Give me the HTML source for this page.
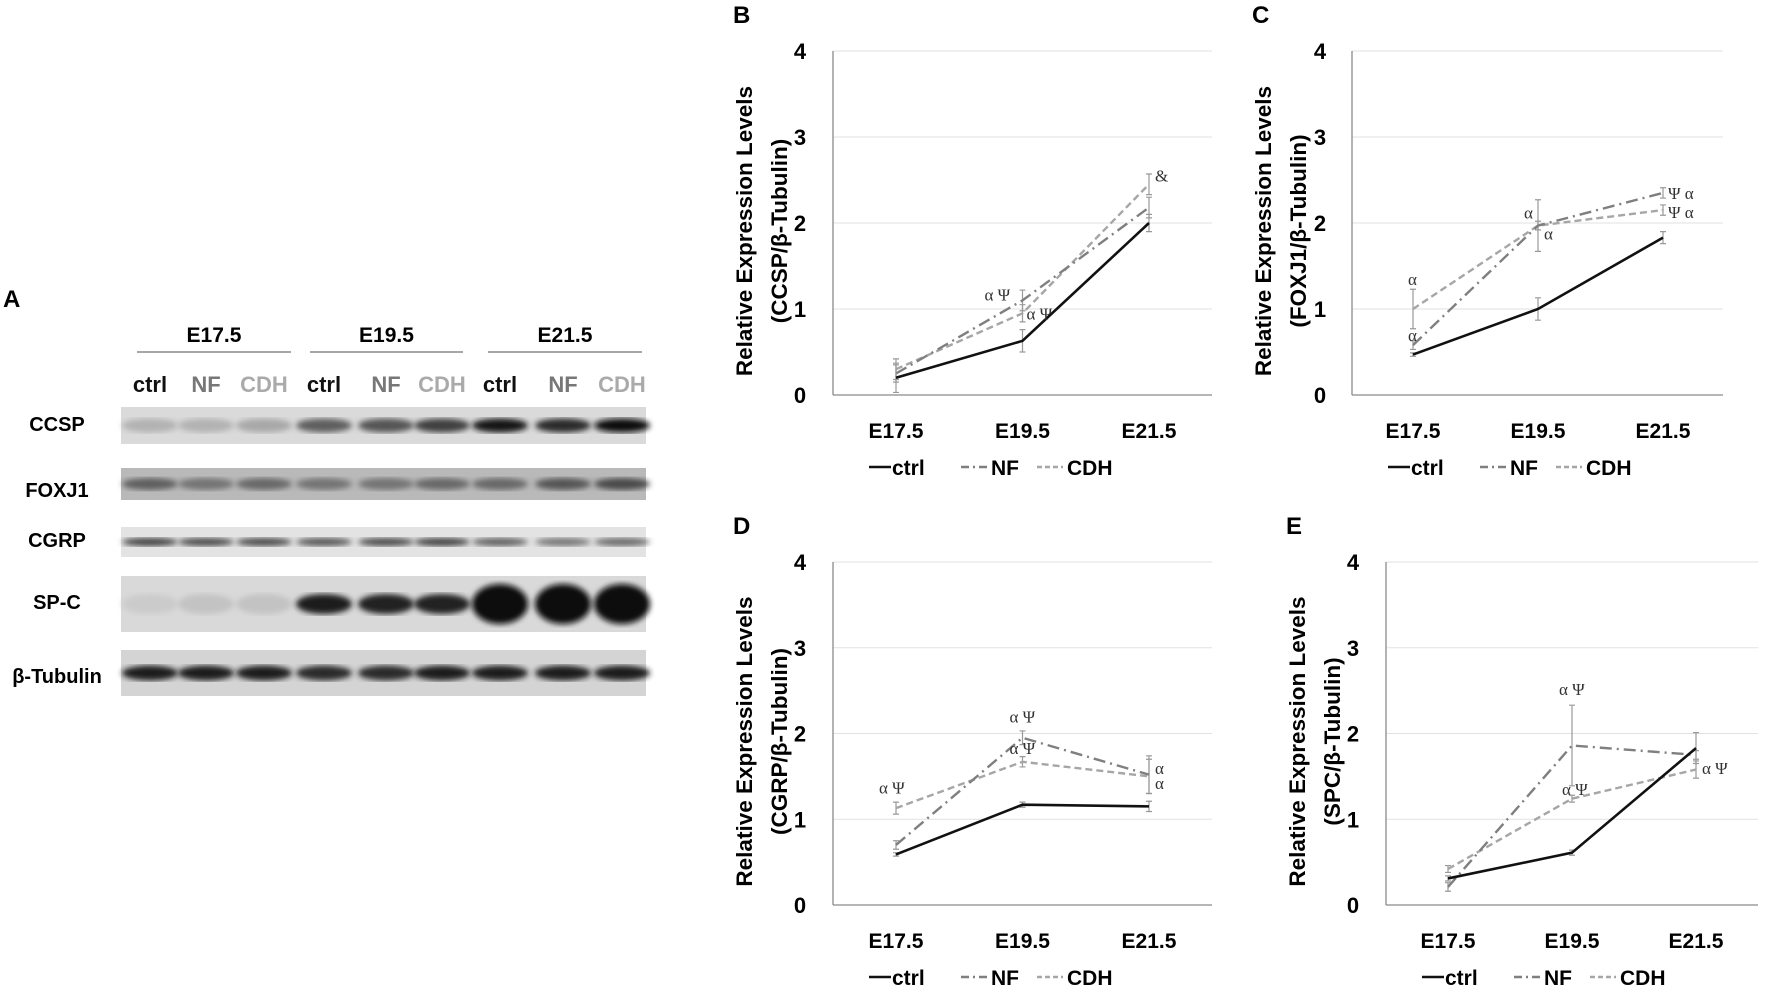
<!DOCTYPE html>
<html><head><meta charset="utf-8">
<style>
html,body{margin:0;padding:0;background:#fff;}
svg{display:block;font-family:"Liberation Sans",sans-serif;}
.lbl{font-family:"Liberation Sans",sans-serif;font-weight:bold;}
</style></head>
<body>
<svg id="fig" width="1772" height="990" viewBox="0 0 1772 990" xmlns="http://www.w3.org/2000/svg">
<defs>
<filter id="blur2"><feGaussianBlur stdDeviation="3"/></filter>
</defs>
<g id="panelA">
<text x="3" y="307" class="lbl" font-size="24">A</text>
</g>
<g id="charts"></g>
</svg>
<script>
// ---- Chart data ----
const categories = ["E17.5","E19.5","E21.5"];
const yTicks = [0,1,2,3,4];
const seriesNames = ["ctrl","NF","CDH"];

const ccspCtrl = [0.20,0.63,2.00];
const ccspNF   = [0.25,1.10,2.18];
const ccspCDH  = [0.30,0.95,2.45];
const ccspCtrlErr = [0.17,0.13,0.10];
const ccspNFErr   = [0.10,0.12,0.12];
const ccspCDHErr  = [0.12,0.10,0.12];

const foxCtrl = [0.47,1.00,1.83];
const foxNF   = [0.58,1.97,2.35];
const foxCDH  = [1.00,1.97,2.15];
const foxCtrlErr = [0.02,0.13,0.07];
const foxNFErr   = [0.05,0.30,0.06];
const foxCDHErr  = [0.23,0.05,0.06];

const cgrpCtrl = [0.59,1.17,1.15];
const cgrpNF   = [0.70,1.95,1.52];
const cgrpCDH  = [1.13,1.67,1.50];
const cgrpCtrlErr = [0.02,0.03,0.06];
const cgrpNFErr   = [0.05,0.08,0.22];
const cgrpCDHErr  = [0.07,0.06,0.20];

const spcCtrl = [0.31,0.61,1.83];
const spcNF   = [0.21,1.86,1.75];
const spcCDH  = [0.42,1.24,1.58];
const spcCtrlErr = [0.03,0.03,0.18];
const spcNFErr   = [0.05,0.47,0.05];
const spcCDHErr  = [0.04,0.04,0.10];

const NS="http://www.w3.org/2000/svg";
const root=document.getElementById('charts');
function el(tag,attrs,parent){const e=document.createElementNS(NS,tag);for(const k in attrs)e.setAttribute(k,attrs[k]);(parent||root).appendChild(e);return e;}

const styles={
 ctrl:{stroke:"#111",dash:"",w:2.6},
 NF:{stroke:"#7f7f7f",dash:"12 5 2 5",w:2.4},
 CDH:{stroke:"#a6a6a6",dash:"7 4",w:2.4}
};

function drawChart(cfg){
 const g=el('g',{});
 
 
 const y=v=>cfg.y0-(cfg.y0-cfg.y4)*v/4;
 const x=i=>cfg.cx0+i*cfg.step;
 const pl=el('text',{x:cfg.ax-100,y:cfg.y4-28,'font-size':24,'class':'lbl'},g);pl.textContent=cfg.letter;
 
 
 yTicks.forEach(t=>{
  if(t>0){const gl=el('line',{x1:cfg.ax,x2:cfg.right,y1:y(t),y2:y(t),stroke:"#e2e2e2","stroke-width":1},g);
   }
  const tl=el('text',{x:cfg.tickX,y:y(t)+8,'font-size':22,'text-anchor':'middle','class':'lbl'},g);tl.textContent=t;
  
 });
 const ya=el('line',{x1:cfg.ax,x2:cfg.ax,y1:cfg.y4,y2:cfg.y0,stroke:"#8a8a8a","stroke-width":1.3},g);
 
 const xa=el('line',{x1:cfg.ax,x2:cfg.right,y1:cfg.y0,y2:cfg.y0,stroke:"#8a8a8a","stroke-width":1.3},g);
 
 categories.forEach((c,i)=>{
  const t=el('text',{x:x(i),y:cfg.y0+43,'font-size':21,'text-anchor':'middle','class':'lbl'},g);t.textContent=c;
  
 });
 const cy=(cfg.y0+cfg.y4)/2+8;
 const t1=el('text',{x:0,y:0,'font-size':22.5,'text-anchor':'middle','class':'lbl',transform:`translate(${cfg.titleX},${cy}) rotate(-90)`},g);
 t1.textContent="Relative Expression Levels";
 
 const t2=el('text',{x:0,y:0,'font-size':22.5,'text-anchor':'middle','class':'lbl',transform:`translate(${cfg.titleX+35},${cy}) rotate(-90)`},g);
 t2.textContent="("+cfg.marker+"/β-Tubulin)";
 
 const order=[2,1,0];
 order.forEach(si=>{
  const name=seriesNames[si];const vals=cfg.series[si];const errs=cfg.errs[si];const st=styles[name];
  vals.forEach((v,i)=>{
   const eb=el('path',{d:`M${x(i)},${y(v-errs[i])}V${y(v+errs[i])}M${x(i)-3},${y(v-errs[i])}h6M${x(i)-3},${y(v+errs[i])}h6`,stroke:"#999","stroke-width":1.2,fill:"none"},g);
   
  });
  const p=el('polyline',{points:vals.map((v,i)=>x(i)+","+y(v)).join(" "),fill:"none",stroke:st.stroke,"stroke-width":st.w,"stroke-dasharray":st.dash},g);
  
 });
 cfg.notes.forEach(n=>{
  const t=el('text',{x:x(n[0])+n[2],y:y(n[1])+6,'font-size':17,fill:"#333",'font-family':'"Liberation Serif","DejaVu Serif",serif'},g);t.textContent=n[3];
  
 });
 const lx=cfg.ax+36, ly=cfg.y0+80;
 const leg=[[0,lx,"ctrl"],[1,lx+92,"NF"],[2,lx+168,"CDH"]];
 leg.forEach(l=>{
  const st=styles[seriesNames[l[0]]];
  const ln=el('line',{x1:l[1],x2:l[1]+(l[0]?26:22),y1:ly-8,y2:ly-8,stroke:st.stroke,"stroke-width":st.w,"stroke-dasharray":l[0]==1?"8 4 2 4":(l[0]==2?"5 3":"")},g);
  
  const t=el('text',{x:l[1]+(l[0]?30:23),y:ly,'font-size':21,'class':'lbl'},g);t.textContent=l[2];
  
 });
}

drawChart({id:'ccsp',letter:'B',marker:'CCSP',ax:833,right:1212,y0:395,y4:51,cx0:896,step:126.5,tickX:800,titleX:752,
 series:[ccspCtrl,ccspNF,ccspCDH],errs:[ccspCtrlErr,ccspNFErr,ccspCDHErr],
 notes:[[1,1.17,-38,"α Ψ"],[1,0.95,4,"α Ψ"],[2,2.55,6,"&"]]});
drawChart({id:'foxj1',letter:'C',marker:'FOXJ1',ax:1352,right:1723,y0:395,y4:51,cx0:1413,step:125,tickX:1320,titleX:1271,
 series:[foxCtrl,foxNF,foxCDH],errs:[foxCtrlErr,foxNFErr,foxCDHErr],
 notes:[[0,1.35,-5,"α"],[0,0.7,-5,"α"],[1,2.12,-14,"α"],[1,1.88,6,"α"],[2,2.35,5,"Ψ α"],[2,2.13,5,"Ψ α"]]});
drawChart({id:'cgrp',letter:'D',marker:'CGRP',ax:833,right:1212,y0:905,y4:562,cx0:896,step:126.5,tickX:800,titleX:752,
 series:[cgrpCtrl,cgrpNF,cgrpCDH],errs:[cgrpCtrlErr,cgrpNFErr,cgrpCDHErr],
 notes:[[0,1.37,-17,"α Ψ"],[1,2.2,-13,"α Ψ"],[1,1.83,-13,"α Ψ"],[2,1.6,6,"α"],[2,1.42,6,"α"]]});
drawChart({id:'spc',letter:'E',marker:'SPC',ax:1386,right:1758,y0:905,y4:562,cx0:1448,step:124,tickX:1353,titleX:1305,
 series:[spcCtrl,spcNF,spcCDH],errs:[spcCtrlErr,spcNFErr,spcCDHErr],
 notes:[[1,2.52,-13,"α Ψ"],[1,1.35,-10,"α Ψ"],[2,1.6,6,"α Ψ"]]});

// ---- Western blot (panel A) ----
const A=document.getElementById('panelA');
const groups=[["E17.5",137,291],["E19.5",310,463],["E21.5",488,642]];
groups.forEach(gp=>{
 const t=el('text',{x:(gp[1]+gp[2])/2,y:342,'font-size':21,'text-anchor':'middle','class':'lbl'},A);t.textContent=gp[0];
 
 const l=el('line',{x1:gp[1],x2:gp[2],y1:352,y2:352,stroke:"#888","stroke-width":1.5},A);
 
});
const lanes=[["ctrl","#111",150],["NF","#777",206],["CDH","#aaa",264],["ctrl","#111",324],["NF","#777",386],["CDH","#aaa",442],["ctrl","#111",500],["NF","#777",563],["CDH","#aaa",622]];
lanes.forEach(ln=>{
 const t=el('text',{x:ln[2],y:392,'font-size':22,'text-anchor':'middle','class':'lbl',fill:ln[1]},A);t.textContent=ln[0];
 
});
const laneX=[150,206,264,324,386,442,500,563,622];
const blots=[
 ["CCSP",407,444,431,"#dadada",[0.2,0.2,0.25,0.6,0.65,0.75,0.95,0.85,0.97],14],
 ["FOXJ1",468,500,497,"#b9b9b9",[0.6,0.5,0.55,0.5,0.5,0.55,0.55,0.65,0.7],12],
 ["CGRP",527,557,547,"#e3e3e3",[0.75,0.7,0.7,0.65,0.7,0.75,0.6,0.5,0.55],8],
 ["SP-C",576,632,609,"#d9d9d9",[0.08,0.12,0.12,0.9,0.88,0.88,1,1,1],20],
 ["β-Tubulin",650,696,683,"#d4d4d4",[0.9,0.9,0.9,0.85,0.85,0.9,0.9,0.9,0.9],15]
];
blots.forEach(b=>{
 const lab=el('text',{x:57,y:b[3],'font-size':20,'text-anchor':'middle','class':'lbl'},A);lab.textContent=b[0];
 
 const bg=el('rect',{x:121,y:b[1],width:525,height:b[2]-b[1],fill:b[4]},A);
 
 const cy=(b[1]+b[2])/2;
 b[5].forEach((v,i)=>{
  const c=Math.round(220-210*v);
  let h=b[6]; if(b[0]==="SP-C"&&i>=6) h=40;
  const e=el('ellipse',{cx:laneX[i],cy:cy,rx:28,ry:h/2,fill:`rgb(${c},${c},${c})`,filter:"url(#blur2)"},A);
  
 });
});
</script>
</body></html>
